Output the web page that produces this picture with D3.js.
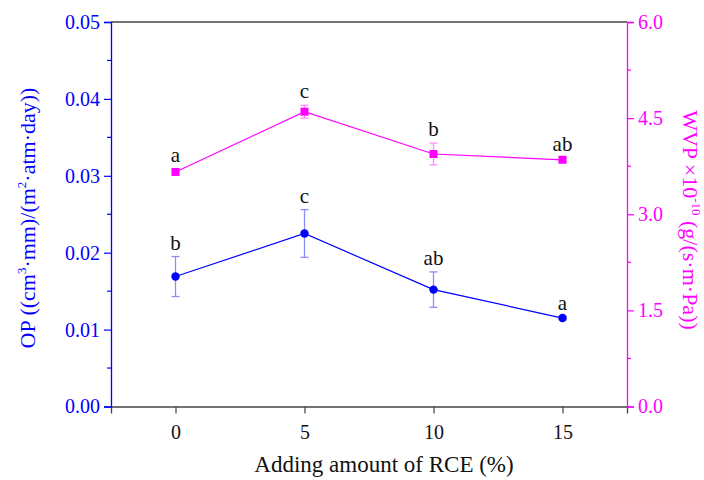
<!DOCTYPE html>
<html>
<head>
<meta charset="utf-8">
<script src="https://cdn.jsdelivr.net/npm/d3@7"></script>
<style>
  html, body { margin: 0; padding: 0; background: #fff; }
  svg { display: block; }
  svg text { font-family: "Liberation Serif", "Times New Roman", serif; }
</style>
</head>
<body>
<svg id="chart" width="704" height="480"></svg>
<script>
// RCE addition levels (%)
const levels = [0, 5, 10, 15];
// Oxygen permeability, mean and SD
const opMean = [0.0169, 0.0225, 0.0152, 0.0115];
const opErr  = [0.0026, 0.0031, 0.0023, 0.0002];
const opLetters = ["b", "c", "ab", "a"];
// Water vapour permeability (×10^-10), mean and SD
const wvpMean = [3.66, 4.60, 3.94, 3.85];
const wvpErr  = [0.04, 0.10, 0.17, 0.03];
const wvpLetters = ["a", "c", "b", "ab"];
// Axis ticks
const xTicks = [0, 5, 10, 15];
const opTicks = [0, 0.01, 0.02, 0.03, 0.04, 0.05];
const wvpTicks = [0, 1.5, 3.0, 4.5, 6.0];

const SERIF = "Liberation Serif";
const BLUE = "#0000ff", MAG = "#ff00ff";
const plotL = 111, plotR = 627, plotT = 22, plotB = 406.5;

const svg = d3.select("#chart");
const x = d3.scaleLinear().domain([-2.5, 17.5]).range([plotL, plotR]);
const yL = d3.scaleLinear().domain([0, 0.05]).range([plotB, plotT]);
const yR = d3.scaleLinear().domain([0, 6]).range([plotB, plotT]);

// frame: top line
svg.append("line").attr("x1", plotL).attr("x2", plotR).attr("y1", plotT).attr("y2", plotT)
  .attr("stroke", "#444").attr("stroke-width", 1.3);

// bottom x axis
const gx = svg.append("g").attr("transform", `translate(0,${plotB})`)
  .call(d3.axisBottom(x).tickValues(xTicks).tickSize(7).tickPadding(11).tickFormat(d3.format("d")));
gx.attr("font-family", SERIF).attr("font-size", 20);
gx.select(".domain").attr("stroke", "#444").attr("stroke-width", 1.3);
gx.selectAll(".tick line").attr("stroke", "#444").attr("stroke-width", 1.2);
gx.selectAll(".tick text").attr("fill", "#111");

// left axis (OP)
const gl = svg.append("g").attr("transform", `translate(${plotL},0)`)
  .call(d3.axisLeft(yL).tickValues(opTicks).tickSize(7).tickPadding(4).tickFormat(d3.format(".2f")));
gl.attr("font-family", SERIF).attr("font-size", 20);
gl.select(".domain").attr("stroke", BLUE).attr("stroke-width", 1.3);
gl.selectAll(".tick line").attr("stroke", BLUE).attr("stroke-width", 1.2);
gl.selectAll(".tick text").attr("fill", BLUE);
gl.selectAll(".minor").data(d3.range(0.005, 0.05, 0.01)).enter().append("line")
  .attr("x1", -4).attr("x2", 0).attr("y1", d => yL(d)).attr("y2", d => yL(d))
  .attr("stroke", BLUE).attr("stroke-width", 1.2);

// right axis (WVP)
const gr = svg.append("g").attr("transform", `translate(${plotR},0)`)
  .call(d3.axisRight(yR).tickValues(wvpTicks).tickSize(7).tickPadding(4).tickFormat(d3.format(".1f")));
gr.attr("font-family", SERIF).attr("font-size", 20);
gr.select(".domain").attr("stroke", MAG).attr("stroke-width", 1.3);
gr.selectAll(".tick line").attr("stroke", MAG).attr("stroke-width", 1.2);
gr.selectAll(".tick text").attr("fill", MAG);
gr.selectAll(".minor").data(d3.range(0.75, 6, 1.5)).enter().append("line")
  .attr("x1", 0).attr("x2", 4).attr("y1", d => yR(d)).attr("y2", d => yR(d))
  .attr("stroke", MAG).attr("stroke-width", 1.2);

// series drawing helper
function drawSeries(means, errs, letters, y, color, errColor, shape) {
  const pts = levels.map((l, i) => ({ x: l, m: means[i], e: errs[i], t: letters[i] }));
  svg.append("path").datum(pts)
    .attr("d", d3.line().x(d => x(d.x)).y(d => y(d.m)))
    .attr("fill", "none").attr("stroke", color).attr("stroke-width", 1.2);
  const eb = svg.append("g").selectAll("g").data(pts).enter().append("g")
    .attr("stroke", errColor).attr("stroke-width", 1.3);
  eb.append("line").attr("x1", d => x(d.x)).attr("x2", d => x(d.x))
    .attr("y1", d => y(d.m + d.e)).attr("y2", d => y(d.m - d.e));
  eb.append("line").attr("x1", d => x(d.x) - 4).attr("x2", d => x(d.x) + 4)
    .attr("y1", d => y(d.m + d.e)).attr("y2", d => y(d.m + d.e));
  eb.append("line").attr("x1", d => x(d.x) - 4).attr("x2", d => x(d.x) + 4)
    .attr("y1", d => y(d.m - d.e)).attr("y2", d => y(d.m - d.e));
  const sym = d3.symbol().type(shape).size(shape === d3.symbolSquare ? 64 : 56);
  svg.append("g").selectAll("path").data(pts).enter().append("path")
    .attr("d", sym).attr("transform", d => `translate(${x(d.x)},${y(d.m)})`)
    .attr("fill", color);
  svg.append("g").selectAll("text").data(pts).enter().append("text")
    .attr("x", d => x(d.x)).attr("y", d => y(d.m + d.e) - 7)
    .attr("text-anchor", "middle").attr("font-family", SERIF).attr("font-size", 21).attr("fill", "#111")
    .text(d => d.t);
}
drawSeries(opMean, opErr, opLetters, yL, BLUE, "#8c8cff", d3.symbolCircle);
drawSeries(wvpMean, wvpErr, wvpLetters, yR, MAG, "#ff8cff", d3.symbolSquare);

// axis titles
svg.append("text").attr("x", (plotL + plotR) / 2 + 15).attr("y", 472)
  .attr("text-anchor", "middle").attr("font-family", SERIF).attr("font-size", 23).attr("fill", "#111")
  .text("Adding amount of RCE (%)");

const lt = svg.append("text").attr("transform", "translate(35,218) rotate(-90)")
  .attr("text-anchor", "middle").attr("font-family", SERIF).attr("font-size", 22).attr("fill", BLUE);
lt.append("tspan").text("OP ((cm");
lt.append("tspan").attr("font-size", 13).attr("dy", -9).text("3");
lt.append("tspan").attr("dy", 9).text("·mm)/(m");
lt.append("tspan").attr("font-size", 13).attr("dy", -9).text("2");
lt.append("tspan").attr("dy", 9).text("·atm·day))");

const rt = svg.append("text").attr("transform", "translate(683,220) rotate(90)")
  .attr("text-anchor", "middle").attr("font-family", SERIF).attr("font-size", 22).attr("fill", MAG);
rt.append("tspan").text("WVP ×10");
rt.append("tspan").attr("font-size", 13).attr("dy", -9).text("-10");
rt.append("tspan").attr("dy", 9).text(" (g/(s·m·Pa))");
</script>
</body>
</html>
